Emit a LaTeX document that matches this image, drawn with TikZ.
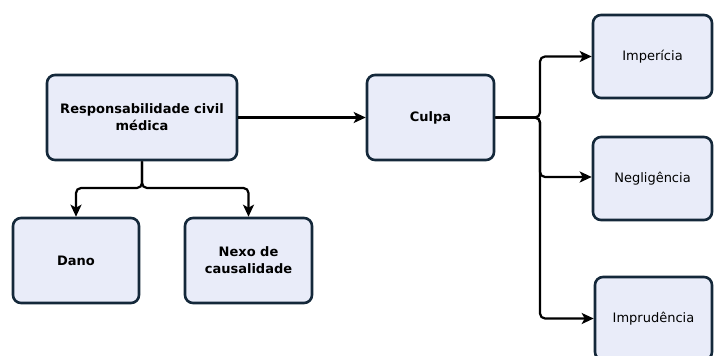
\documentclass[tikz,border=0pt]{standalone}
\usepackage{fontspec}
\setmainfont{DejaVu Sans}
\usetikzlibrary{arrows.meta}
\definecolor{boxfill}{HTML}{E9ECF9}
\definecolor{boxline}{HTML}{14283A}
\tikzset{
  box/.style={draw=boxline, fill=boxfill, line width=2.6pt, rounded corners=8pt,
    align=center, inner sep=2pt, font=\fontsize{13}{17}\selectfont},
  boldbox/.style={box, font=\fontsize{13}{17}\selectfont\bfseries},
  arr/.style={draw=black, line width=2.2pt, -{Stealth[length=12pt,width=11pt,inset=3pt]}},
}
\begin{document}
\begin{tikzpicture}[x=1pt,y=-1pt]
\clip (0,0) rectangle (715,356);
\fill[white] (0,0) rectangle (715,356);
\node[boldbox, minimum width=190pt, minimum height=85pt] (main) at (142,117.5) {Responsabilidade civil\\médica};
\node[boldbox, minimum width=127pt, minimum height=85pt] (culpa) at (430.5,117.5) {Culpa};
\node[boldbox, minimum width=126pt, minimum height=85pt] (dano) at (76,260.5) {Dano};
\node[boldbox, minimum width=127pt, minimum height=85pt] (nexo) at (248.5,260.5) {Nexo de\\causalidade};
\node[box, minimum width=119pt, minimum height=83pt] (imp) at (652.5,56.5) {Imperícia};
\node[box, minimum width=119pt, minimum height=83pt] (neg) at (652.5,178.5) {Negligência};
\node[box, minimum width=117pt, minimum height=83pt] (impr) at (653.5,318.5) {Imprudência};
\coordinate (mj) at (142,188);
\coordinate (cj) at (540,117.5);
\draw[arr] (main.east) -- (culpa.west);
\draw[arr, rounded corners=5pt] (main.south) -- (mj) -| (dano.north);
\draw[arr, rounded corners=5pt] (main.south) -- (mj) -| (nexo.north);
\draw[arr, rounded corners=5pt] (culpa.east) -- (cj) |- (imp.west);
\draw[arr, rounded corners=5pt] (culpa.east) -- (cj) |- ([yshift=1.5pt]neg.west);
\draw[arr, rounded corners=5pt] (culpa.east) -- (cj) |- (impr.west);
\end{tikzpicture}
\end{document}
